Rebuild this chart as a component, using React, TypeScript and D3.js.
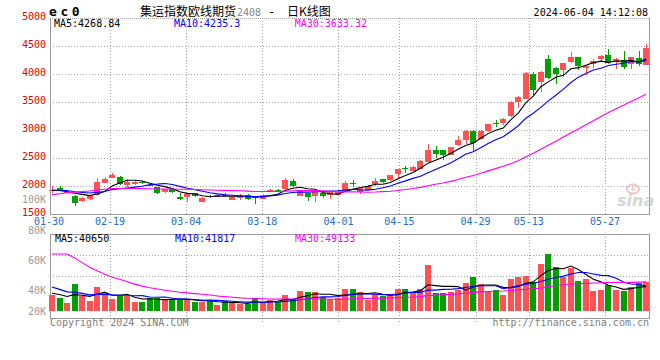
import React from 'react';
import * as d3 from 'd3';

// trading days shown (Jan 30 – Jun 4, 2024)
const dates = [
  '01-30','01-31','02-01','02-02','02-05','02-06','02-07','02-08','02-19','02-20',
  '02-21','02-22','02-23','02-26','02-27','02-28','02-29','03-01','03-04','03-05',
  '03-06','03-07','03-08','03-11','03-12','03-13','03-14','03-15','03-18','03-19',
  '03-20','03-21','03-22','03-25','03-26','03-27','03-28','03-29','04-01','04-02',
  '04-03','04-08','04-09','04-10','04-11','04-12','04-15','04-16','04-17','04-18',
  '04-19','04-22','04-23','04-24','04-25','04-26','04-29','04-30','05-06','05-07',
  '05-08','05-09','05-10','05-13','05-14','05-15','05-16','05-17','05-20','05-21',
  '05-22','05-23','05-24','05-27','05-28','05-29','05-30','05-31','06-03','06-04'
];

const opens = [
  1920,1970,1895,1827,1737,1768,1845,2059,2148,2166,
  2018,2036,2070,2020,1977,1880,1941,1809,1798,1870,
  1720,1815,1809,1845,1750,1800,1845,1812,1780,1887,
  1932,1941,2089,1827,1870,1809,1870,1840,1840,1898,
  2055,1898,1930,2036,2119,2107,2214,2316,2268,2309,
  2434,2643,2643,2554,2732,2821,2988,2852,2988,3125,
  3120,3250,3488,3566,4000,3863,4268,4113,4059,4202,
  4298,4100,4191,4280,4339,4209,4250,4179,4280,4173
];
const closes = [
  1935,1925,1900,1702,1791,1821,2071,2130,2196,2048,
  2071,2071,2060,2000,1870,1941,1893,1780,1857,1809,
  1791,1800,1845,1835,1809,1810,1773,1795,1845,1928,
  1925,2107,2000,1928,1791,1887,1809,1887,1898,2059,
  2045,1970,1995,2089,2062,2196,2304,2295,2345,2452,
  2643,2571,2554,2691,2821,2988,2773,2988,3107,3115,
  3191,3506,3584,4023,3714,4041,3934,4000,4191,4298,
  4143,4143,4238,4327,4191,4268,4130,4298,4179,4470
];
const highs = [
  2000,1995,1915,1840,1809,1845,2137,2166,2227,2175,
  2125,2090,2095,2030,1985,1950,1950,1870,1865,1880,
  1800,1840,1850,1880,1815,1850,1855,1830,1855,1940,
  1950,2148,2125,1935,1880,1895,1880,1895,1905,2095,
  2107,1988,2010,2137,2125,2200,2310,2362,2355,2460,
  2750,2714,2650,2700,2893,2995,2995,2995,3115,3178,
  3210,3520,3600,4030,4030,4050,4339,4130,4200,4387,
  4310,4155,4268,4340,4446,4290,4416,4310,4416,4536
];
const lows = [
  1870,1900,1885,1648,1720,1760,1809,2050,2140,2018,
  1988,2010,2035,1990,1860,1875,1875,1750,1720,1800,
  1715,1790,1800,1820,1745,1750,1750,1690,1775,1880,
  1905,1935,1990,1820,1737,1720,1790,1763,1835,1890,
  1990,1870,1920,2000,2055,2100,2155,2237,2260,2300,
  2430,2495,2477,2550,2720,2750,2612,2809,2980,3048,
  3080,3240,3387,3560,3625,3673,3910,3834,3952,4190,
  4080,3982,4100,4220,4170,4100,4100,4089,4150,4160
];
const volumes = [
  26700,21700,13400,45100,25000,16700,40100,30100,20000,25000,
  25000,15000,15000,21700,21700,20000,18400,18400,20000,15000,
  15000,16700,10000,16700,13400,11700,11700,21700,15000,18400,
  15000,26700,20000,33400,31700,31700,23400,20000,21700,36700,
  36700,31700,18400,28400,25000,28400,36700,36700,31700,36700,
  76800,30100,30100,32200,34600,46800,56800,45100,33400,35100,
  26700,53400,56800,58500,48400,78500,95200,73500,56800,71300,
  50100,53400,33400,35100,43400,35100,33400,40100,46800,47900
];
// estimated sessions before the visible window (needed for the moving averages)
const priorCloses = [
  1300,1350,1400,1450,1550,1600,1690,1850,1950,2050,
  2100,2150,2080,2000,1950,1900,1900,1880,1900,1912,
  1960,1950,1930,1920,1920,1925,2010,1842,1888
];
const priorVolumes = [
  20000,15000,240000,260000,250000,220000,200000,170000,130000,150000,
  130000,115000,100000,90000,80000,70000,65000,55000,50000,45000,
  60000,55000,50000,45000,42000,32000,30000,29000,30000
];

const priceTicks = [5000, 4500, 4000, 3500, 3000, 2500, 2000, 1500];
const volTicks = [80000, 60000, 40000, 20000];
const volTickLabels = ['80K', '60K', '40K', '20K'];
const dateTicks = ['01-30','02-19','03-04','03-18','04-01','04-15','04-29','05-13','05-27'];
const maPeriods = [5, 10, 30];
const maColors = ['#000000', '#0000ff', '#ff00ff'];
const priceLegend = ['MA5:4268.84', 'MA10:4235.3', 'MA30:3633.32'];
const volLegend = ['MA5:40650', 'MA10:41817', 'MA30:49133'];

function movingAvg(prior: number[], vals: number[], n: number): number[] {
  const all = prior.concat(vals);
  const off = prior.length;
  return vals.map((_, i) => d3.mean(all.slice(off + i - n + 1, off + i + 1)) as number);
}

export default function App() {
  const W = 660, H = 360;
  const L = 50, R = 649, T = 18, B = 214, VT = 234, VB = 318;
  const x = d3.scaleBand<string>().domain(dates).range([48.24, 649.84]).padding(0);
  const cx = (i: number) => (x(dates[i]) as number) + x.bandwidth() / 2;
  const gx = d3.scaleLinear().domain([0, dates.length - 1]).range([49.1, 49.1 + 79 * 7.615]);
  const y = d3.scaleLinear().domain([1500, 5000]).range([B, T]);
  const yv = d3.scaleLinear().domain([0, 100000]).range([311, 311 - 100000 / 1670]);
  const yvLab = d3.scaleLinear().domain([20000, 40000, 60000, 80000]).range([311.3, 290.8, 260, 230.8]);
  const mono = "'DejaVu Sans Mono', 'Liberation Mono', monospace";
  const cjk = "'Noto Sans CJK SC', 'Noto Sans', sans-serif";
  const RED = '#ff5252', GREEN = '#00a000';
  const GRID = '#a0a0a0';

  const priceMA = maPeriods.map(n => movingAvg(priorCloses, closes, n));
  const volMA = maPeriods.map(n => movingAvg(priorVolumes, volumes, n));
  const lineP = d3.line<number>().x((_, i) => cx(i)).y(v => y(v));
  const lineV = d3.line<number>().x((_, i) => cx(i)).y(v => yv(v));
  const isUp = (i: number) => closes[i] >= opens[i];

  return (
    <svg width={W} height={H} style={{ position: 'absolute', left: 0, top: 0, background: '#fff' }}>
      <rect x={0} y={0} width={W} height={H} fill="#fff" />
      {/* header */}
      <text x={49} y={16} fontFamily={mono} fontWeight="bold" fontSize={13} letterSpacing={3.6} fill="#000">ec0</text>
      <text x={140} y={15.5} fontFamily={cjk} fontSize={12} fill="#000">集运指数欧线期货</text>
      <text x={237} y={15.5} fontFamily={mono} fontSize={10} fill="#888">2408</text>
      <text x={268} y={15.5} fontFamily={mono} fontSize={12} fill="#000">-</text>
      <text x={287} y={15.5} fontFamily={cjk} fontSize={12} fill="#000">日K线图</text>
      <text x={648} y={16} textAnchor="end" fontFamily={mono} fontSize={10} fill="#000">2024-06-04 14:12:08</text>

      {/* main grid */}
      {priceTicks.filter(v => v < 5000 && v > 1500).map(v => (
        <line key={'hg' + v} x1={L} x2={R} y1={Math.round(y(v)) + 0.5} y2={Math.round(y(v)) + 0.5}
          stroke={GRID} strokeDasharray="1,2" />
      ))}
      {dateTicks.slice(1).map(d => {
        const gxx = Math.round(gx(dates.indexOf(d))) + 0.5;
        return (
          <g key={'vg' + d}>
            <line x1={gxx} x2={gxx} y1={T} y2={B} stroke={GRID} strokeDasharray="1,2" />
            <line x1={gxx} x2={gxx} y1={VT} y2={VB + 4} stroke={GRID} strokeDasharray="1,2" />
          </g>
        );
      })}
      <line x1={L} x2={R} y1={T + 0.5} y2={T + 0.5} stroke={GRID} strokeDasharray="1,1" />
      <line x1={L + 0.5} x2={L + 0.5} y1={T} y2={B} stroke="#999" />
      <line x1={R + 0.5} x2={R + 0.5} y1={T} y2={B} stroke="#999" />
      <line x1={L} x2={R + 1} y1={B + 0.5} y2={B + 0.5} stroke="#999" />

      {/* price axis labels */}
      {priceTicks.map(v => (
        <text key={'pl' + v} x={46} y={y(v) + 1.5} textAnchor="end" fontFamily={mono} fontSize={10} fill="#e00000">{v}</text>
      ))}
      <text x={46} y={203.3} textAnchor="end" fontFamily={mono} fontSize={10} fill="#999">100K</text>

      {/* watermark */}
      <g opacity={0.6}>
        <ellipse cx={633} cy={189} rx={6} ry={4.5} fill="none" stroke="#e8a0a0" strokeWidth={2} />
        <circle cx={633} cy={189} r={1.8} fill="#e8a0a0" />
        <text x={617} y={206} fontFamily="'DejaVu Sans', sans-serif" fontStyle="italic" fontWeight="bold" fontSize={16} fill="#bbb">sina</text>
      </g>

      {/* candles */}
      {dates.map((d, i) => {
        const c = Math.round(cx(i));
        const col = isUp(i) ? RED : GREEN;
        const yo = y(opens[i]), yc = y(closes[i]);
        const top = Math.round(Math.min(yo, yc));
        const h = Math.max(1, Math.round(Math.abs(yo - yc)));
        return (
          <g key={'c' + d} shapeRendering="crispEdges">
            <rect x={c} y={Math.round(y(highs[i]))} width={1} height={Math.max(1, Math.round(y(lows[i]) - y(highs[i])))} fill={col} />
            <rect x={c - 3} y={top} width={6} height={h} fill={col} />
          </g>
        );
      })}
      {priceMA.map((ma, k) => (
        <path key={'pma' + k} d={lineP(ma) as string} fill="none" stroke={maColors[k]} strokeWidth={1.1} />
      ))}
      {priceLegend.map((t, k) => (
        <text key={'plg' + k} x={[54, 174, 294.7][k]} y={27} fontFamily={mono} fontSize={10} fill={maColors[k]}>{t}</text>
      ))}

      {/* date labels */}
      {dateTicks.map(d => (
        <text key={'dl' + d} x={gx(dates.indexOf(d))} y={225} textAnchor="middle" fontFamily={mono} fontSize={10} fill="#1a6fc8">{d}</text>
      ))}

      {/* volume panel */}
      {[1, 2].map(k => {
        const yy = Math.round(VT + (k * (VB - VT)) / 4) + 0.5;
        return <line key={'vh' + k} x1={L} x2={R} y1={yy} y2={yy} stroke={GRID} strokeDasharray="1,2" />;
      })}
      <line x1={L} x2={R + 1} y1={VT + 0.5} y2={VT + 0.5} stroke="#999" />
      <line x1={L + 0.5} x2={L + 0.5} y1={VT} y2={VB} stroke="#999" />
      <line x1={R + 0.5} x2={R + 0.5} y1={VT} y2={VB} stroke="#999" />
      <line x1={L} x2={R + 1} y1={VB + 0.5} y2={VB + 0.5} stroke="#999" />
      {volTicks.map((v, k) => (
        <text key={'vl' + v} x={46} y={yvLab(v) + 3.5} textAnchor="end" fontFamily={mono} fontSize={10} fill="#999">{volTickLabels[k]}</text>
      ))}
      {dates.map((d, i) => {
        const c = Math.round(cx(i));
        const top = Math.round(yv(volumes[i]));
        return (
          <rect key={'v' + d} x={c - 3} y={top} width={6} height={Math.round(yv(0)) - top}
            fill={isUp(i) ? RED : GREEN} shapeRendering="crispEdges" />
        );
      })}
      {volMA.map((ma, k) => (
        <path key={'vma' + k} d={lineV(ma) as string} fill="none" stroke={maColors[k]} strokeWidth={1.1} />
      ))}
      {volLegend.map((t, k) => (
        <text key={'vlg' + k} x={[55, 175, 295][k]} y={242} fontFamily={mono} fontSize={10} fill={maColors[k]}>{t}</text>
      ))}

      {/* footer */}
      <text x={50} y={326} fontFamily={mono} fontSize={10} fill="#808080">Copyright 2024 SINA.COM</text>
      <text x={649} y={326} textAnchor="end" fontFamily={mono} fontSize={10} fill="#808080">http://finance.sina.com.cn</text>
    </svg>
  );
}
